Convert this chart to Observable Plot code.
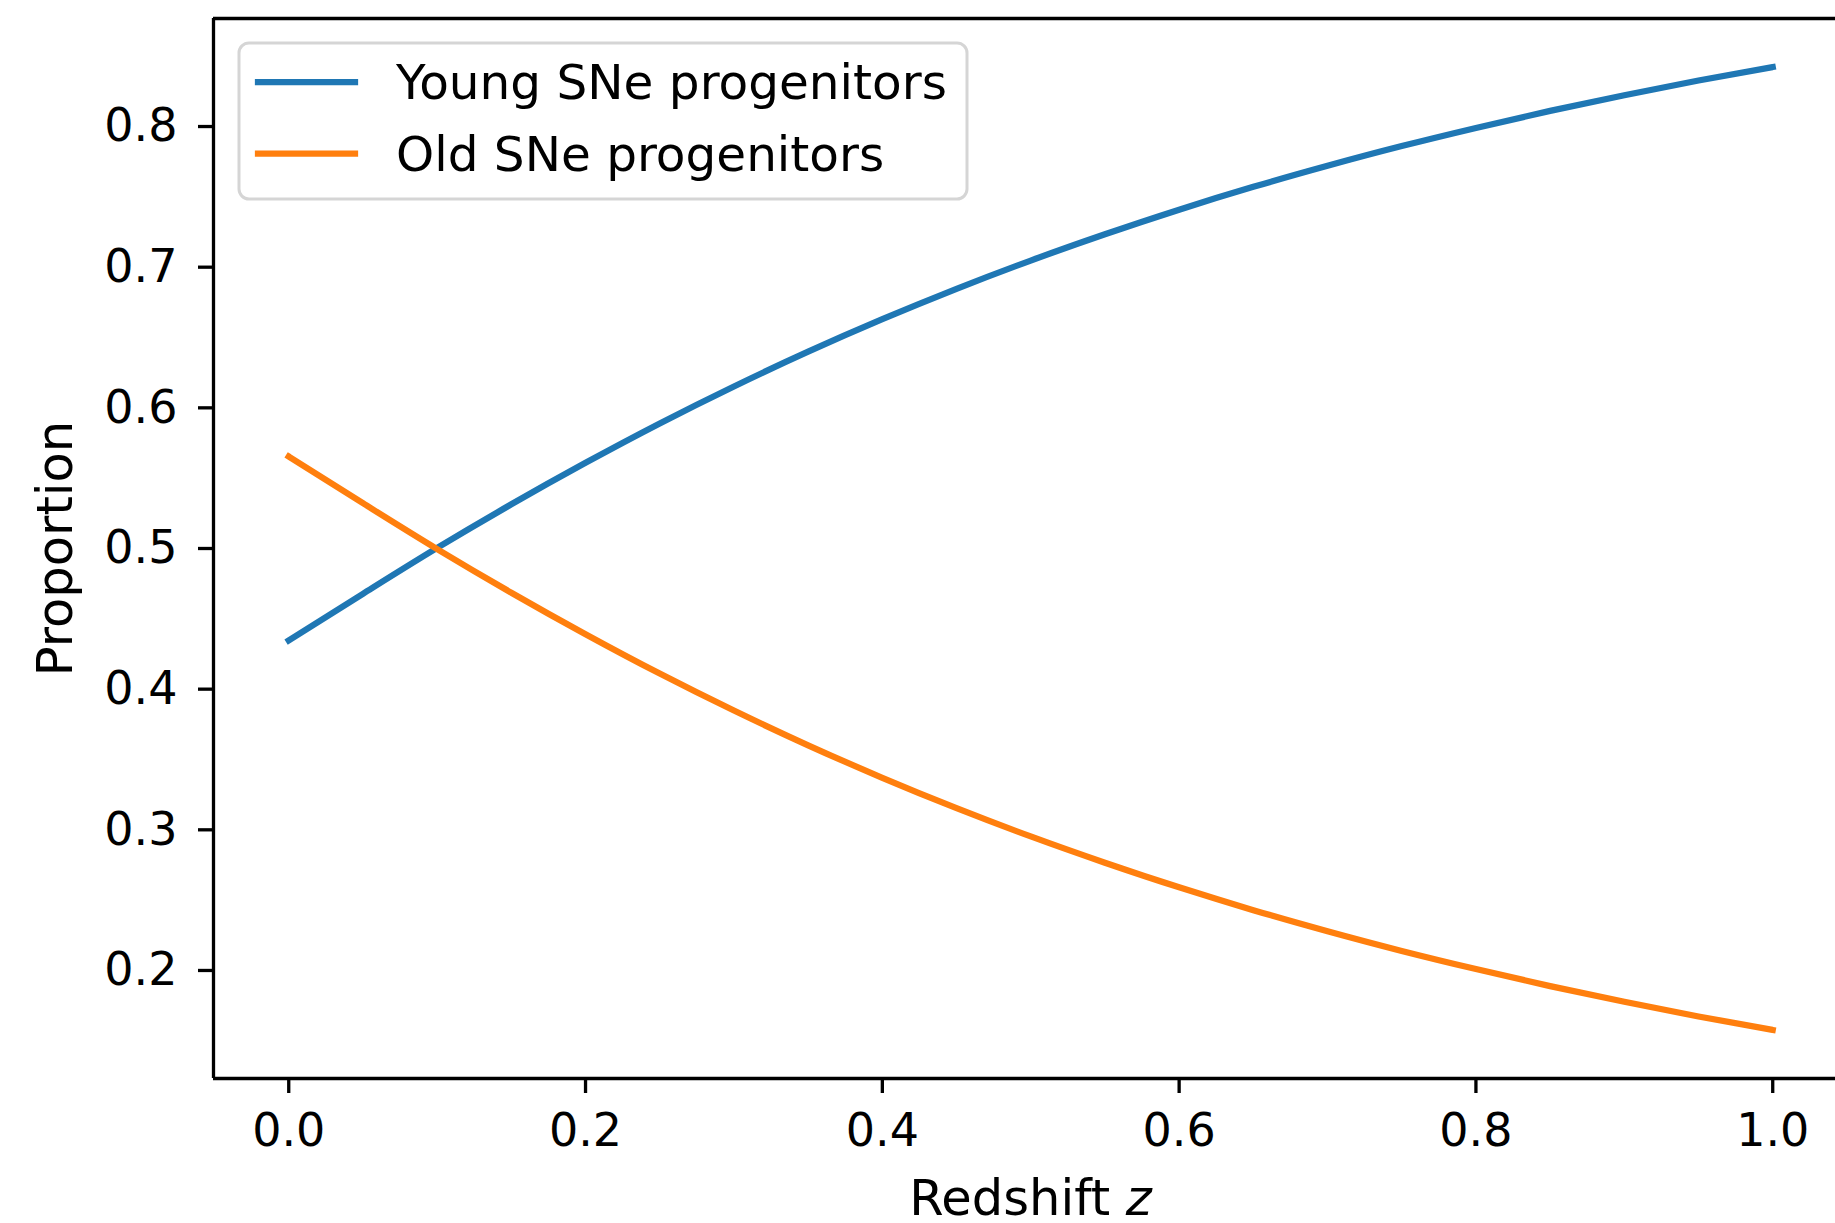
<!DOCTYPE html>
<html>
<head>
<meta charset="utf-8">
<script src="https://cdn.jsdelivr.net/npm/d3@7"></script>
<script src="https://cdn.jsdelivr.net/npm/@observablehq/plot@0.6"></script>
<style>
  html, body { margin: 0; padding: 0; background: #ffffff; }
  #chart { width: 1835px; height: 1223px; }
</style>
</head>
<body>
<div id="chart"></div>
<script>
// ---- data ----
const redshift = [0.00, 0.05, 0.10, 0.15, 0.20, 0.25, 0.30, 0.35, 0.40, 0.45, 0.50,
                  0.55, 0.60, 0.65, 0.70, 0.75, 0.80, 0.85, 0.90, 0.95, 1.00];
const youngProportion = [0.4346, 0.4678, 0.5004, 0.5314, 0.5609, 0.5889, 0.6152, 0.6399, 0.6630, 0.6846, 0.7047,
                         0.7234, 0.7409, 0.7571, 0.7721, 0.7861, 0.7990, 0.8111, 0.8222, 0.8327, 0.8423];
const oldProportion = [0.5654, 0.5322, 0.4996, 0.4686, 0.4391, 0.4111, 0.3848, 0.3601, 0.3370, 0.3154, 0.2953,
                       0.2766, 0.2591, 0.2429, 0.2279, 0.2139, 0.2010, 0.1889, 0.1778, 0.1673, 0.1577];
const seriesNames = ["Young SNe progenitors", "Old SNe progenitors"];
const seriesColors = ["#1f77b4", "#ff7f0e"];
const xTicks = [0.0, 0.2, 0.4, 0.6, 0.8, 1.0];
const yTicks = [0.2, 0.3, 0.4, 0.5, 0.6, 0.7, 0.8];
const xLabel = "Redshift z";
const yLabel = "Proportion";

const xDomain = [-0.0507, 1.0423];
const yDomain = [0.1232, 0.8768];

const rows = [];
redshift.forEach((zv, i) => {
  rows.push({z: zv, p: youngProportion[i], series: seriesNames[0]});
});
redshift.forEach((zv, i) => {
  rows.push({z: zv, p: oldProportion[i], series: seriesNames[1]});
});

const fmt = d3.format(".1f");
const W = 1835, H = 1223;

const chart = Plot.plot({
  width: W,
  height: H,
  marginLeft: 213,
  marginRight: 0,
  marginTop: 18,
  marginBottom: 145,
  style: {fontFamily: "DejaVu Sans", fontSize: "46px", color: "#000000", background: "#ffffff", overflow: "visible"},
  x: {domain: xDomain},
  y: {domain: yDomain},
  color: {domain: seriesNames, range: seriesColors},
  marks: [
    Plot.line(rows, {x: "z", y: "p", stroke: "series", z: "series", strokeWidth: 6.25,
                     strokeLinecap: "square", strokeLinejoin: "round", curve: "monotone-x"}),
    Plot.ruleX([xDomain[0]], {stroke: "#000", strokeWidth: 3.3}),
    Plot.ruleY([yDomain[0], yDomain[1]], {stroke: "#000", strokeWidth: 3.3}),
    Plot.axisX({ticks: xTicks, tickFormat: fmt, tickSize: 15, tickPadding: 20, strokeWidth: 3.3, label: null, fontSize: 46}),
    Plot.axisY({ticks: yTicks, tickFormat: fmt, tickSize: 15, tickPadding: 21, strokeWidth: 3.3, label: null, fontSize: 46}),
    Plot.text([yLabel], {frameAnchor: "left", dx: -142, rotate: -90, lineAnchor: "bottom", textAnchor: "middle", fontSize: 49.5}),
    Plot.text([xLabel], {frameAnchor: "bottom", dx: 6, dy: 136, lineAnchor: "bottom", textAnchor: "middle", fontSize: 49.5})
  ]
});

document.getElementById("chart").appendChild(chart);

// italic z in the x label (mathtext style)
d3.select(chart).selectAll("text").each(function() {
  if (this.textContent === xLabel) {
    const t = d3.select(this);
    t.text(null);
    t.append("tspan").text("Redshift ");
    t.append("tspan").attr("font-style", "italic").text("z");
  }
});

// legend inside the axes (upper left)
const svg = d3.select(chart);
const lg = svg.append("g")
  .attr("font-family", "DejaVu Sans")
  .attr("font-size", 48.5)
  .attr("text-anchor", "start");
lg.append("rect")
  .attr("x", 239).attr("y", 43).attr("width", 728).attr("height", 156)
  .attr("rx", 10).attr("ry", 10)
  .attr("fill", "#ffffff").attr("fill-opacity", 0.8)
  .attr("stroke", "#d5d5d5").attr("stroke-width", 3);
seriesNames.forEach((name, i) => {
  const yy = 82 + i * 71.5;
  lg.append("line")
    .attr("x1", 258).attr("x2", 355).attr("y1", yy).attr("y2", yy)
    .attr("stroke", seriesColors[i]).attr("stroke-width", 6.25).attr("stroke-linecap", "square");
  lg.append("text")
    .attr("x", 396).attr("y", yy + 17)
    .attr("text-anchor", "start")
    .attr("fill", "#000")
    .text(name);
});
</script>
</body>
</html>
